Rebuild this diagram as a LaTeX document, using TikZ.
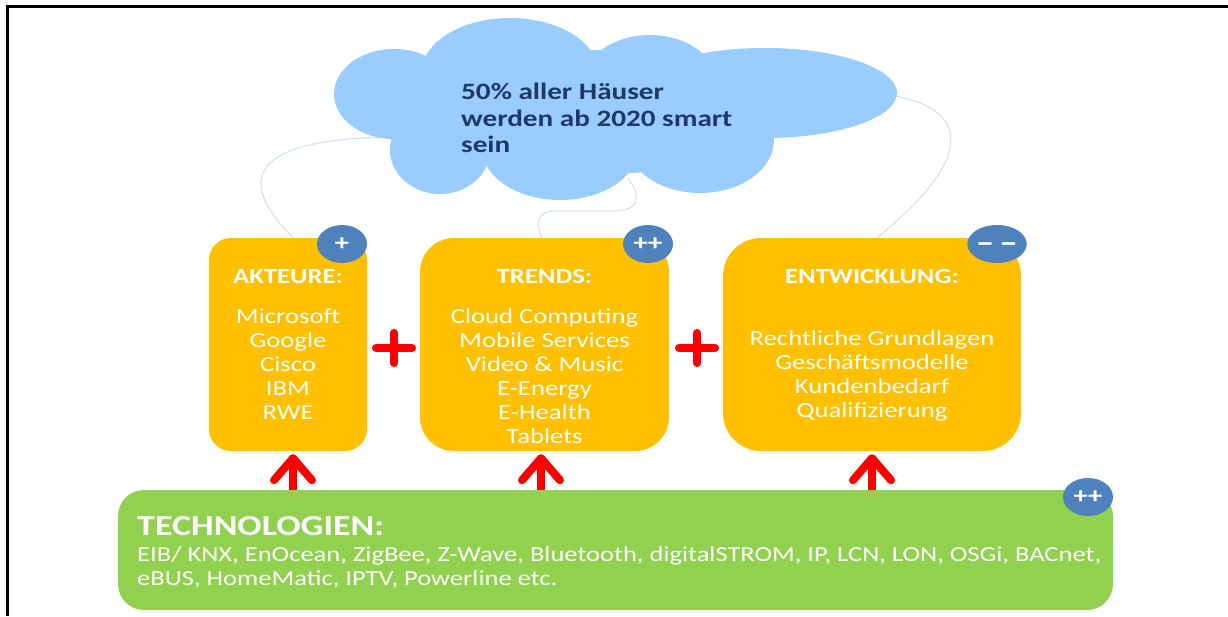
\documentclass[tikz,border=0pt]{standalone}
\usepackage{fontspec}
\setmainfont{Carlito}[FakeStretch=1.24]
\usetikzlibrary{arrows.meta, shapes.geometric, positioning}
\definecolor{cyel}{HTML}{FFC000}
\definecolor{cgrn}{HTML}{92D050}
\definecolor{cbadge}{HTML}{4F81BD}
\definecolor{ccloud}{HTML}{99CCFF}
\definecolor{cnavy}{HTML}{1F3864}
\definecolor{cthin}{HTML}{D5E2F2}
\definecolor{cred}{HTML}{FF0000}

\begin{document}
\begin{tikzpicture}[x=1pt, y=-1pt,
    topbox/.style={fill=cyel, minimum height=213pt, inner sep=0pt},
    badge/.style={ellipse, fill=cbadge, minimum width=50pt, minimum height=38pt, inner sep=0pt, text=white, font=\fontsize{23}{24}\selectfont\bfseries},
    boxtitle/.style={text=white, inner sep=0pt, font=\fontsize{21.5}{24}\selectfont\bfseries},
    boxlist/.style={text=white, inner sep=0pt, align=center, font=\fontsize{21.5}{24}\selectfont},
    thinline/.style={draw=cthin, line width=1.2pt},
    plusbar/.style={draw=cred, line width=8pt, line cap=round},
    uparrow/.style={draw=cred, line width=8pt, -{Straight Barb[length=22pt, width=38pt, round]}}]
    \useasboundingbox (0,0) rectangle (1228,616);
    \draw[line width=3pt] (7,616) -- (7,6) -- (1228,6);
    \coordinate (cl) at (401,137);
    \coordinate (cb) at (628,178);
    \coordinate (cr) at (895,96);
    \node (akt) [topbox, minimum width=158pt, rounded corners=22pt] at (288,344.5) {};
    \node (trd) [topbox, minimum width=249pt, rounded corners=34pt] at (544.5,344.5) {};
    \node (ent) [topbox, minimum width=298pt, rounded corners=38pt] at (872,344.5) {};
    \node (tech) [fill=cgrn, minimum width=995pt, minimum height=120pt, rounded corners=26pt] at (615.5,550) {};
    \draw[thinline] (cl) .. controls (230,137) and (245,190) .. ([xshift=5pt]akt.north);
    \draw[thinline] (cb) .. controls (642,198) and (640,211) .. (612,211) -- (556,211) .. controls (536,211) and (536,224) .. ([xshift=-3pt]trd.north);
    \draw[thinline] (cr) .. controls (960,108) and (985,150) .. ([xshift=5pt]ent.north);
    \fill[ccloud] (394,94) ellipse (60 and 45) (510,72) ellipse (88 and 54) (650,85) ellipse (68 and 50)
        (765,93) ellipse (132 and 45) (700,140) ellipse (74 and 53) (560,148) ellipse (78 and 52)
        (440,150) ellipse (50 and 44) (600,112) ellipse (180 and 62);
    \node (cloud) [anchor=west, align=left, inner sep=0pt, text=cnavy, font=\fontsize{23.5}{26.5}\selectfont\bfseries] at (461,118) {50\% aller Häuser\\werden ab 2020 smart\\sein};
    \node (akttitle) [boxtitle] at (288,277) {AKTEURE:};
    \node (trdtitle) [boxtitle] at (544.5,277) {TRENDS:};
    \node (enttitle) [boxtitle] at (872,277) {ENTWICKLUNG:};
    \node (aktlist) [boxlist] at (288,364) {Microsoft\\Google\\Cisco\\IBM\\RWE};
    \node (trdlist) [boxlist] at (544.5,376.5) {Cloud Computing\\Mobile Services\\Video \& Music\\E-Energy\\E-Health\\Tablets};
    \node (entlist) [boxlist] at (872,376) {Rechtliche Grundlagen\\Geschäftsmodelle\\Kundenbedarf\\Qualifizierung};
    \node (aktbadge) [badge] at (342,244) {+};
    \node (trdbadge) [badge] at (648,244) {++};
    \node (entbadge) [badge, font=\fontsize{30}{30}\selectfont\bfseries] at (997,244) {\raisebox{-8pt}[0pt][0pt]{–\,–}};
    \node (techbadge) [badge] at (1088,497) {++};
    \node (techtitle) [anchor=west, inner sep=0pt, text=white, font=\fontsize{29}{32}\selectfont\bfseries] at (137,526) {TECHNOLOGIEN:};
    \node (techlist) [anchor=west, align=left, inner sep=0pt, text=white, font=\fontsize{21.4}{24}\selectfont] at (137,567) {EIB/ KNX, EnOcean, ZigBee, Z-Wave, Bluetooth, digitalSTROM, IP, LCN, LON, OSGi, BACnet,\\eBUS, HomeMatic, IPTV, Powerline etc.};
    \foreach \c in {394,697} \draw[plusbar] (\c-18,348) -- (\c+18,348) (\c,333) -- (\c,363);
    \foreach \b/\dx in {akt/5, trd/-3.5, ent/0} \draw[uparrow] ([xshift=\dx pt]\b.south |- tech.north) -- ([xshift=\dx pt, yshift=-3pt]\b.south);
\end{tikzpicture}
\end{document}
